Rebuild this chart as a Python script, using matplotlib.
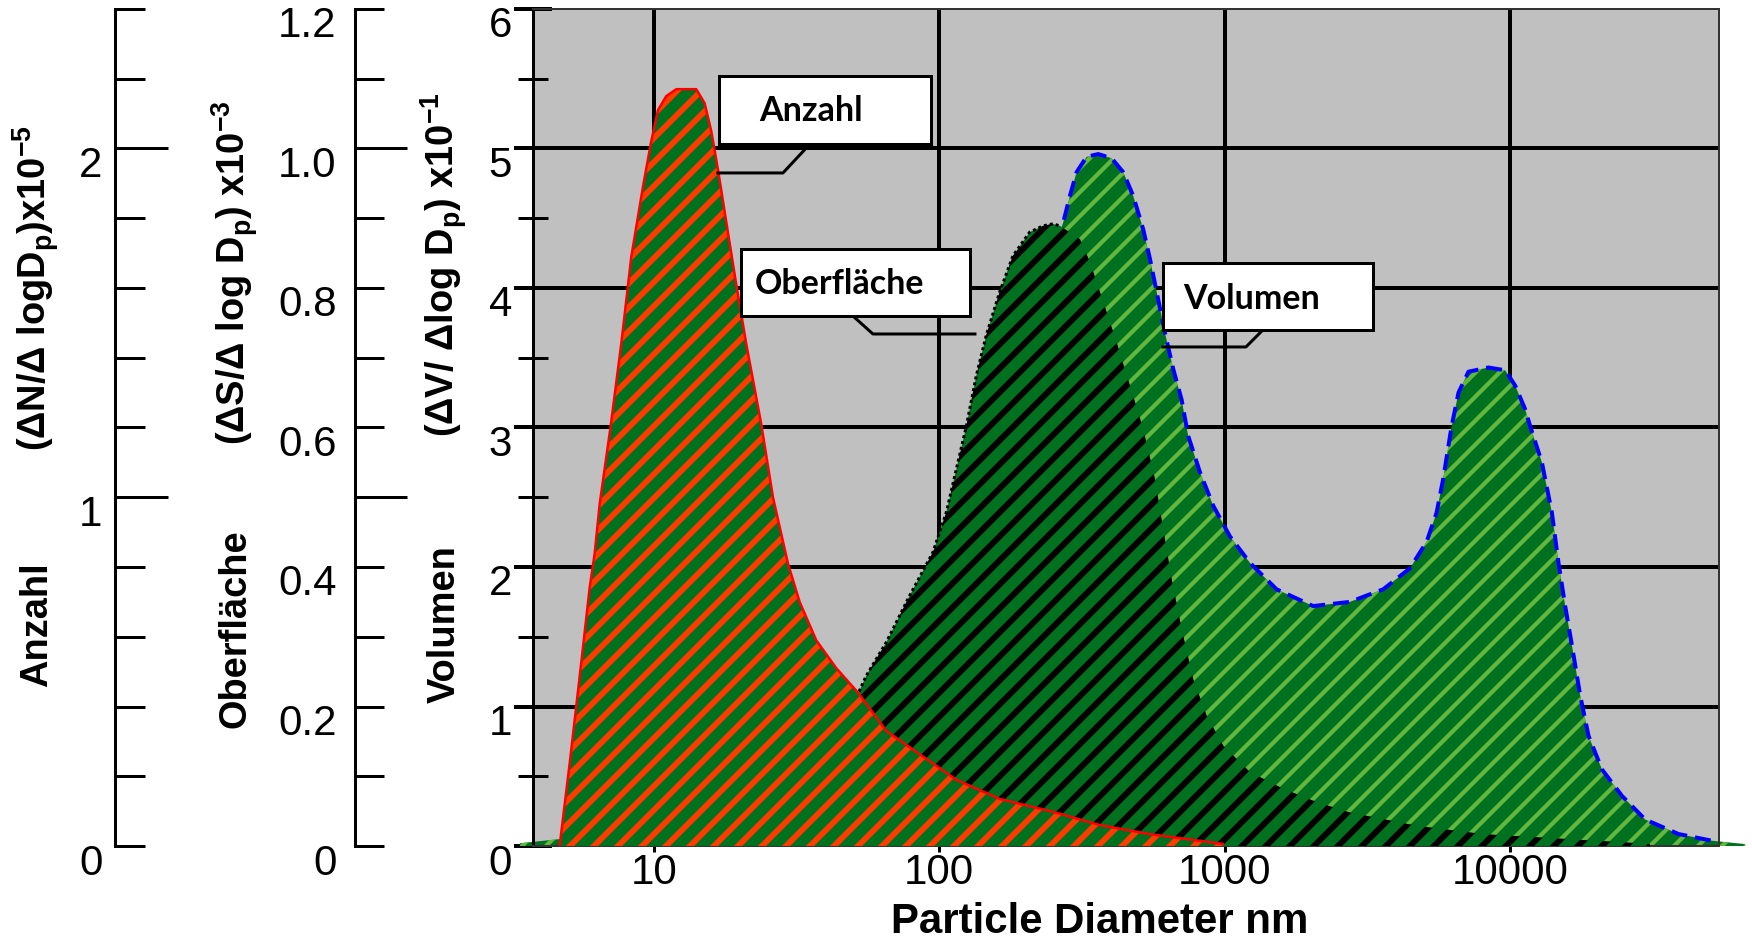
import numpy as np
import matplotlib
matplotlib.use('Agg')
import matplotlib.pyplot as plt
from matplotlib.patches import Rectangle
from matplotlib.lines import Line2D
from matplotlib.ticker import NullLocator
from matplotlib.transforms import ScaledTranslation
import matplotlib.patheffects as pe

plt.rcParams['font.family'] = ['Liberation Sans', 'DejaVu Sans']
plt.rcParams['mathtext.default'] = 'regular'

# number distribution, dN/dlogDp in units of 1e5
diam_n = [4.67, 5.07, 5.34, 5.64, 5.95, 6.20, 6.45, 7.04, 7.68, 8.33, 9.15, 9.78,
          10.33, 11.04, 11.97, 12.81, 14.07, 15.05, 15.88, 16.76, 17.92, 19.43,
          21.06, 23.77, 26.13, 29.49, 32.40, 37.05, 43.55, 51.88, 65.21, 83.06,
          114.7, 162.8, 250.3, 365.7, 547.5, 986.8]
anzahl = [0.0, 0.24, 0.40, 0.57, 0.74, 0.84, 0.98, 1.20, 1.44, 1.69, 1.89, 2.02,
          2.11, 2.15, 2.17, 2.17, 2.17, 2.13, 2.05, 1.94, 1.79, 1.61,
          1.44, 1.21, 1.00, 0.81, 0.70, 0.59, 0.51, 0.44, 0.33, 0.27,
          0.19, 0.135, 0.098, 0.06, 0.034, 0.006]

# surface distribution, dS/dlogDp in units of 1e3
diam_s = [4.68, 8.93, 14.5, 23.52, 32.48, 41.39, 51.88, 55.47, 65.21, 78.76, 95.0,
          105.8, 124.3, 134.8, 146.1, 162.8, 181.2, 207.4, 230.9, 250.3, 264.8,
          311.2, 337.4, 375.6, 418.4, 465.9, 517.5, 570.1, 609.5, 652.2, 707.2,
          776.5, 865.0, 989.2, 1227, 1606, 2102, 2750, 4711, 8064, 15800, 30960]
oberflaeche = [0.0, 0.017, 0.040, 0.090, 0.141, 0.188, 0.218, 0.244, 0.292, 0.359, 0.421,
               0.478, 0.601, 0.674, 0.732, 0.794, 0.846, 0.880, 0.889, 0.892, 0.889,
               0.870, 0.837, 0.780, 0.722, 0.660, 0.599, 0.526, 0.454, 0.383, 0.311,
               0.239, 0.187, 0.144, 0.106, 0.082, 0.063, 0.048, 0.029, 0.017, 0.010, 0.003]

# volume distribution, dV/dlogDp in units of 1e1
diam_v = [3.39, 6.47, 14.5, 27.65, 51.9, 95.0, 124.0, 163.2, 207.9, 244.3,
          272.0, 287.1, 302.9, 328.5, 360.7, 401.9, 441.4, 478.5, 518.7, 547.5,
          618.0, 660.7, 707.0, 745.7, 819.7, 912.5, 1044, 1227, 1522, 2045,
          2750, 3597, 4463, 5107, 5537, 5838, 6238, 6607, 7161, 8416,
          9630, 10440, 11320, 11780, 12950, 14040, 14810, 15630, 16500, 17640,
          18870, 21020, 24700, 29810, 39000, 51060, 66800]
volumen = [0.02, 0.08, 0.20, 0.33, 0.72, 1.26, 1.76, 2.62, 3.70, 4.20,
           4.47, 4.66, 4.83, 4.94, 4.96, 4.93, 4.83, 4.66, 4.42, 4.21,
           3.68, 3.42, 3.20, 2.94, 2.68, 2.44, 2.22, 2.03, 1.84, 1.72,
           1.75, 1.84, 1.99, 2.18, 2.39, 2.63, 3.00, 3.25, 3.40, 3.43,
           3.41, 3.30, 3.13, 3.01, 2.75, 2.39, 2.03, 1.72, 1.44, 1.08,
           0.79, 0.55, 0.36, 0.19, 0.086, 0.038, 0.014]

x_ticks = [10, 100, 1000, 10000]
x_labels = ['10', '100', '1000', '10000']
v_ticks = [0, 1, 2, 3, 4, 5, 6]
s_ticks = np.round(np.arange(0, 1.21, 0.1), 1)
s_labels = ['0', '', '0.2', '', '0.4', '', '0.6', '', '0.8', '', '1.0', '', '1.2']
n_ticks = np.round(np.arange(0, 2.41, 0.2), 1)
n_labels = ['0', '', '', '', '', '1', '', '', '', '', '2', '', '']

DPI = 72
GREEN = '#00721f'

fig = plt.figure(figsize=(1752 / DPI, 944 / DPI), dpi=DPI)
ax = fig.add_axes([0.3042, 0.1038, 0.6769, 0.8867])
ax.set_facecolor('#c0c0c0')
ax.set_xscale('log')
ax.set_xlim(3.766, 54040)
ax.set_ylim(0, 6)

ax_s = ax.twinx()
ax_n = ax.twinx()
ax_s.set_ylim(0, 1.2)
ax_n.set_ylim(0, 2.4)

for spine in ax.spines.values():
    spine.set_color('#333333')
    spine.set_linewidth(2)
ax.spines['left'].set_linewidth(3)
ax.spines['left'].set_color('black')

# main (volume) axis
ax.set_yticks(v_ticks)
ax.set_yticks(np.arange(0.5, 6, 1), minor=True)
ax.tick_params(axis='y', which='major', direction='inout', length=38, width=4,
               pad=2, labelsize=42)
ax.tick_params(axis='y', which='minor', direction='inout', length=30, width=3)
ax.set_xticks(x_ticks, x_labels)
ax.xaxis.set_minor_locator(NullLocator())
ax.tick_params(axis='x', which='major', direction='out', length=6, width=3,
               pad=1, labelsize=42)
ax.grid(True, which='major', color='black', linewidth=4)
ax.set_axisbelow(True)
yt = ax.yaxis.get_major_ticks()
yt[0].gridline.set_visible(False)
yt[-1].gridline.set_visible(False)

ax.set_xlabel('Particle Diameter nm', fontsize=42, fontweight='bold')
ax.xaxis.set_label_coords(0.478, -0.067)


def side_axis(a, pos, ticks, labels, long_at, short_len, long_len, pad):
    for side in ('top', 'right', 'bottom'):
        a.spines[side].set_visible(False)
    a.spines['left'].set_visible(True)
    a.spines['left'].set_position(('axes', pos))
    a.spines['left'].set_linewidth(3)
    a.yaxis.set_ticks_position('left')
    a.yaxis.set_label_position('left')
    a.set_yticks(ticks, labels)
    a.tick_params(axis='y', direction='in', length=short_len, width=3,
                  pad=pad, labelsize=42)
    for t, val in zip(a.yaxis.get_major_ticks(), ticks):
        if val in long_at:
            t.tick1line.set_markersize(long_len)


side_axis(ax_s, -0.1504, s_ticks, s_labels, (0.5, 1.0), 29, 52, 18)
side_axis(ax_n, -0.3521, n_ticks, n_labels, (1.0, 2.0), 30, 53, 13)

# y tick labels sit a little below their ticks
shift = ScaledTranslation(0, -13 / DPI, fig.dpi_scale_trans)
for a in (ax, ax_s, ax_n):
    for lab in a.get_yticklabels():
        lab.set_transform(lab.get_transform() + shift)


def striped_fill(a, x, y, stripe_color, stripe_lw, clip=True):
    plt.rcParams['hatch.linewidth'] = stripe_lw
    poly = a.fill_between(x, 0, y, facecolor=GREEN, edgecolor=stripe_color,
                          hatch='/', linewidth=0, clip_on=clip)
    if hasattr(poly, 'set_hatch_linewidth'):
        poly.set_hatch_linewidth(stripe_lw)
    return poly


# volume in the back, then surface, then number on top
striped_fill(ax, diam_v, volumen, '#62b83e', 4.2, clip=False)
ax.plot(diam_v[3:], volumen[3:], color='blue', linewidth=4, linestyle=(0, (4, 2)))

striped_fill(ax_s, diam_s, oberflaeche, 'black', 6.0)
peak_s = diam_s.index(311.2)
ax_s.plot(diam_s[:peak_s], oberflaeche[:peak_s], color='black', linewidth=3,
          linestyle=(0, (1, 1)))

striped_fill(ax_n, diam_n, anzahl, '#ff3c00', 5.8)
ax_n.plot(diam_n, anzahl, color='red', linewidth=2.5)

# callout boxes with leader lines
callouts = [
    ('Anzahl', (0.1568, 0.8387, 0.1788, 0.0813), (0.1906, 0.8662),
     [(0.2336, 0.8387), (0.2108, 0.8041), (0.1560, 0.8041)]),
    ('Oberfläche', (0.1756, 0.6332, 0.1931, 0.0801), (0.1872, 0.6595),
     [(0.2698, 0.6332), (0.2867, 0.6117), (0.3727, 0.6117)]),
    ('Volumen', (0.5312, 0.6165, 0.1771, 0.0800), (0.5481, 0.6416),
     [(0.6155, 0.6165), (0.6012, 0.5962), (0.5312, 0.5962)]),
]
for name, (bx, by, bw, bh), (tx, ty), leader in callouts:
    lx, ly = zip(*leader)
    ax_n.add_line(Line2D(lx, ly, transform=ax_n.transAxes, color='black',
                         linewidth=3, clip_on=False, zorder=9))
    box = Rectangle((bx, by), bw, bh, transform=ax_n.transAxes, facecolor='white',
                    edgecolor='black', linewidth=3, clip_on=False, zorder=10)
    box.set_path_effects([pe.SimplePatchShadow(offset=(2, -2), shadow_rgbFace='black',
                                               alpha=1.0), pe.Normal()])
    ax_n.add_patch(box)
    ax_n.text(tx, ty, name, transform=ax_n.transAxes, ha='left', va='baseline',
              fontsize=34, fontweight='bold', family=['Lato', 'DejaVu Sans'],
              zorder=11, clip_on=False)

# axis titles, written bottom to top
ylabels = [
    (0.0268, 0.6944, r'(ΔN/Δ logD$_p$)x10$^{-5}$'),
    (0.0268, 0.3385, 'Anzahl'),
    (0.1404, 0.7113, r'(ΔS/Δ log D$_p$) x10$^{-3}$'),
    (0.1404, 0.3337, 'Oberfläche'),
    (0.2597, 0.7198, r'(ΔV/ Δlog D$_p$) x10$^{-1}$'),
    (0.2597, 0.3385, 'Volumen'),
]
for x, y, s in ylabels:
    fig.text(x, y, s, rotation=90, rotation_mode='anchor', ha='center',
             va='baseline', fontsize=38, fontweight='bold')

fig.savefig('out.png', dpi=DPI)
